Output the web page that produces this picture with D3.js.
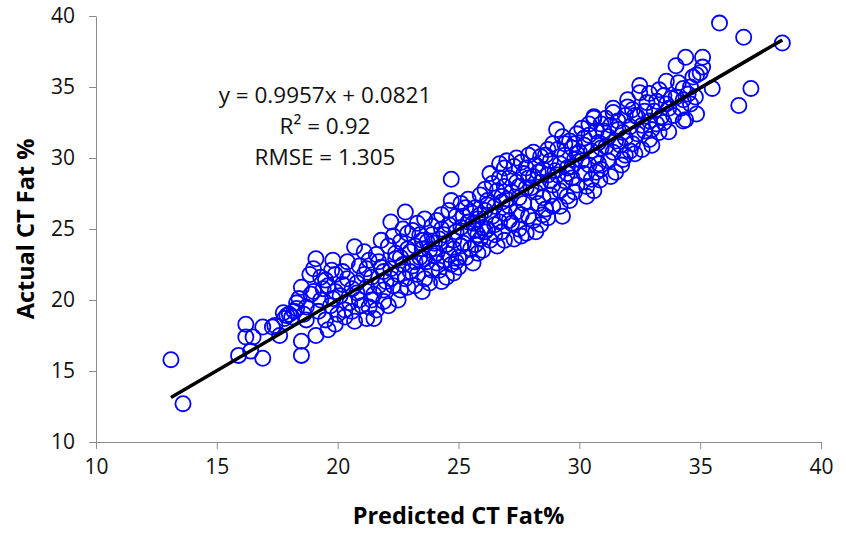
<!DOCTYPE html>
<html lang="en">
  <head>
    <title>CT Fat</title>
    <script src="https://cdn.jsdelivr.net/npm/d3@7"></script>
    <style>
      body { margin: 0; background-color: white; }
    </style>
  </head>

  <body>
    <div id="container"></div>

<script>
    // grouped roughly by predicted value
    const predicted = [
      13.1, 13.6, 15.9, 16.2, 16.2, 16.5, 16.4, 16.9, 16.9, 17.3, 17.6, 17.4, 17.75, 17.9, 17.8,
      18.0, 18.2, 18.3, 18.1, 18.5, 18.5, 18.5, 18.4, 18.7, 18.85, 18.6, 18.9, 18.3, 18.7,
      19.1, 19.0, 19.1, 19.0, 19.3, 19.5, 19.75, 19.8, 19.9, 19.9, 19.3, 19.7, 19.5, 19.2, 19.9, 19.6, 19.4, 19.8, 20.0, 19.6,
      20.3, 20.7, 20.2, 20.4, 20.6, 20.1, 20.8, 20.5, 20.9, 20.3, 20.6, 20.9, 20.4, 20.7, 21.0, 20.2, 20.8,
      21.2, 21.5, 21.1, 21.3, 21.6, 21.4, 21.8, 21.2, 21.5, 21.7, 21.9, 21.3, 21.6, 21.8, 21.9, 21.1, 21.4, 21.7, 22.0, 21.9, 21.2,
      22.2, 22.8, 22.5, 22.1, 22.3, 22.6, 22.9, 22.4, 22.7, 22.2, 22.5, 22.8, 22.3, 22.6, 22.9, 22.1, 22.4, 22.7, 23.0, 22.9, 22.6, 22.2,
      23.1, 23.3, 23.6, 23.9, 23.2, 23.5, 23.8, 23.4, 23.7, 23.1, 23.9, 23.3, 23.6, 23.2, 23.8, 23.5, 23.0, 23.4, 23.7, 24.0, 23.6, 23.2, 23.9, 23.5,
      24.7, 24.7, 24.8, 24.1, 24.3, 24.6, 24.9, 24.2, 24.5, 24.8, 24.1, 24.4, 24.7, 24.2, 24.9, 24.5, 24.3, 24.6, 24.9, 24.0, 24.4, 24.8, 24.1, 24.6, 25.0, 24.3,
      25.1, 25.4, 25.7, 25.9, 25.2, 25.5, 25.8, 25.1, 25.4, 25.7, 25.9, 25.2, 25.5, 25.8, 25.3, 25.6, 25.0, 25.9, 25.3, 25.6, 25.1, 25.8, 25.4, 26.0, 25.7,
      26.1, 26.4, 26.7, 26.9, 26.2, 26.5, 26.8, 26.1, 26.4, 26.7, 26.9, 26.2, 26.5, 26.8, 26.3, 26.6, 26.0, 26.9, 26.3, 26.6, 26.2, 26.8, 26.5, 26.9, 26.1, 26.7,
      27.0, 27.3, 27.6, 27.9, 27.1, 27.4, 27.7, 27.2, 27.5, 27.8, 27.1, 27.4, 27.7, 27.9, 27.2, 27.5, 27.8, 27.3, 27.6, 27.0, 27.9, 27.4, 27.6, 27.1, 27.8, 27.5,
      28.1, 28.4, 28.7, 28.9, 28.2, 28.5, 28.8, 28.1, 28.4, 28.7, 28.9, 28.2, 28.5, 28.8, 28.3, 28.6, 28.9, 28.1, 28.4, 28.7, 28.0, 28.6, 28.3, 28.8, 28.5, 28.2,
      29.06, 29.3, 29.6, 29.9, 29.1, 29.4, 29.7, 29.2, 29.5, 29.8, 29.1, 29.4, 29.7, 29.9, 29.2, 29.5, 29.3, 29.6, 29.8, 29.0, 29.9, 29.4, 29.7, 29.2, 29.5, 29.8,
      30.6, 30.3, 30.6, 30.85, 30.1, 30.4, 30.7, 30.9, 30.2, 30.5, 30.8, 30.1, 30.4, 30.7, 30.9, 30.2, 30.5, 30.8, 30.3, 30.6, 30.0, 30.9, 30.4, 30.7, 30.2,
      31.4, 31.4, 31.75, 31.1, 31.3, 31.6, 31.9, 31.2, 31.5, 31.8, 31.1, 31.4, 31.7, 31.9, 31.2, 31.5, 31.0, 31.6, 31.8, 31.3, 31.9, 32.0,
      32.0, 32.5, 32.5, 32.9, 32.3, 33.0, 32.2, 32.4, 32.7, 32.9, 32.1, 32.4, 32.7, 32.9, 32.2, 32.6, 32.8, 32.3, 32.6, 32.1, 33.0,
      33.3, 33.7, 33.6, 33.2, 33.5, 33.8, 33.1, 33.4, 33.7, 33.2, 33.5, 33.9, 33.6, 33.3,
      34.0, 34.4, 34.85, 34.0, 34.6, 34.85, 34.3, 34.3, 34.3, 34.7, 34.4, 34.2, 34.5, 34.8, 34.1, 34.6,
      35.1, 35.1, 35.5, 35.8, 36.8, 38.4, 37.1, 36.6, 35.0
    ];
    const actual = [
      15.8, 12.7, 16.1, 18.3, 17.4, 17.4, 16.4, 15.9, 18.1, 18.1, 17.5, 18.2, 19.1, 18.9, 18.7,
      19.0, 19.2, 19.4, 18.8, 17.1, 16.1, 20.9, 20.1, 19.5, 21.8, 19.0, 20.4, 19.8, 18.6,
      22.9, 20.6, 17.5, 22.2, 21.6, 21.4, 22.1, 22.8, 21.8, 20.6, 20.0, 19.6, 18.6, 19.2, 18.3, 17.9, 20.8, 20.1, 19.0, 21.0,
      19.3, 23.75, 22.0, 21.5, 20.8, 20.3, 21.2, 19.8, 20.0, 18.8, 19.2, 22.4, 22.7, 18.5, 19.6, 21.1, 20.5,
      18.7, 18.7, 23.4, 22.8, 23.2, 21.6, 22.3, 20.9, 20.4, 21.0, 19.9, 19.5, 19.3, 24.2, 22.0, 21.8, 20.0, 22.7, 21.3, 20.7, 22.2,
      25.5, 26.2, 20.0, 23.8, 24.5, 24.1, 23.6, 22.9, 22.5, 22.2, 21.8, 21.5, 21.0, 20.7, 20.9, 19.6, 23.3, 25.0, 22.0, 24.7, 23.0, 21.5,
      24.9, 25.4, 25.7, 24.6, 23.8, 24.2, 23.5, 23.0, 22.7, 22.4, 22.1, 21.8, 21.5, 21.0, 21.2, 20.6, 23.4, 24.6, 24.1, 23.1, 22.9, 22.7, 25.2, 23.6,
      28.5, 27.0, 21.9, 25.6, 25.0, 25.3, 24.8, 24.3, 23.9, 23.6, 23.3, 22.8, 22.5, 22.1, 22.7, 21.6, 26.0, 26.3, 25.9, 24.0, 24.6, 24.2, 22.6, 23.2, 23.0, 21.3,
      26.8, 27.1, 26.5, 27.4, 25.9, 26.2, 25.7, 25.1, 24.7, 24.9, 24.3, 24.0, 23.6, 23.3, 23.0, 22.6, 22.3, 26.0, 26.5, 25.4, 23.8, 24.6, 25.5, 25.1, 23.9,
      27.8, 28.2, 28.6, 29.3, 27.0, 26.6, 27.3, 26.3, 25.9, 25.5, 26.1, 25.0, 24.6, 24.8, 24.2, 23.8, 23.5, 28.0, 28.9, 27.7, 26.7, 26.9, 25.3, 24.2, 24.8, 29.6,
      29.8, 29.4, 29.7, 30.2, 28.6, 28.3, 28.9, 27.6, 27.2, 27.9, 26.6, 26.2, 26.8, 25.9, 25.4, 25.0, 24.7, 24.3, 24.5, 27.1, 28.6, 30.0, 26.0, 25.6, 29.3, 28.0,
      30.4, 30.1, 30.6, 31.0, 29.5, 29.2, 29.8, 28.7, 28.3, 28.8, 28.1, 27.6, 27.2, 27.4, 26.8, 26.4, 26.6, 25.6, 25.3, 25.8, 27.9, 30.2, 29.0, 28.4, 26.0, 24.8,
      32.0, 31.5, 31.2, 31.7, 30.6, 30.2, 30.7, 29.6, 29.3, 29.9, 28.8, 28.4, 28.6, 28.1, 27.7, 27.3, 25.9, 27.0, 27.6, 29.1, 30.3, 31.0, 29.4, 26.6, 28.9, 31.0,
      32.9, 27.3, 32.8, 28.45, 32.1, 31.6, 31.9, 32.4, 30.9, 30.5, 31.1, 29.8, 29.5, 30.1, 29.2, 28.9, 28.5, 29.6, 28.0, 27.7, 30.4, 30.7, 32.4, 29.0, 31.4,
      33.2, 33.5, 29.5, 32.8, 32.3, 32.6, 33.0, 31.5, 31.2, 31.8, 30.8, 30.4, 30.9, 30.2, 29.8, 29.0, 31.9, 32.0, 29.9, 28.7, 31.4, 33.6,
      34.1, 35.1, 34.6, 34.55, 30.3, 30.9, 33.4, 32.9, 33.3, 32.6, 32.2, 31.7, 31.9, 31.3, 31.0, 30.6, 33.9, 33.0, 32.3, 30.5, 32.0,
      31.8, 31.85, 35.4, 34.0, 34.4, 34.2, 33.3, 32.9, 33.5, 32.4, 32.5, 33.0, 33.8, 34.8,
      36.5, 37.1, 35.85, 34.3, 35.0, 33.1, 32.6, 34.9, 34.1, 35.7, 32.7, 33.5, 34.5, 34.3, 35.3, 33.8,
      37.1, 36.4, 34.9, 39.5, 38.5, 38.1, 34.9, 33.7, 36.0
    ];

    const xTicks = [10, 15, 20, 25, 30, 35, 40];
    const yTicks = [10, 15, 20, 25, 30, 35, 40];

    const slope = 0.9957, intercept = 0.0821;
    const statLines = ["y = 0.9957x + 0.0821", "R\u00b2 = 0.92", "RMSE = 1.305"];

    const W = 846, H = 534;
    const margin = {top: 16, right: 25, bottom: 92, left: 96};
    const width = W - margin.left - margin.right;
    const height = H - margin.top - margin.bottom;

    const svg = d3.select("#container").append("svg")
      .attr("width", W)
      .attr("height", H)
      .append("g")
      .attr("transform", `translate(${margin.left}, ${margin.top})`);

    const xAxis = d3.scaleLinear().domain([10, 40]).range([0, width]);
    const yAxis = d3.scaleLinear().domain([10, 40]).range([height, 0]);

    const font = "'Open Sans', 'Liberation Sans', sans-serif";

    const gx = svg.append("g")
      .attr("transform", `translate(0, ${height})`)
      .call(d3.axisBottom(xAxis).tickValues(xTicks).tickSizeInner(7).tickSizeOuter(0).tickPadding(10));
    const gy = svg.append("g")
      .call(d3.axisLeft(yAxis).tickValues(yTicks).tickSizeInner(7).tickSizeOuter(0).tickPadding(14));

    [gx, gy].forEach(g => {
      g.select(".domain").attr("stroke", "#8c8c8c");
      g.selectAll(".tick line").attr("stroke", "#8c8c8c");
      g.selectAll(".tick text").style("font", `21px ${font}`).attr("fill", "#111");
    });

    // points
    svg.append("g")
      .selectAll("circle")
      .data(predicted.map((p, i) => [p, actual[i]]))
      .enter()
      .append("circle")
      .attr("cx", d => xAxis(d[0]))
      .attr("cy", d => yAxis(d[1]))
      .attr("r", 7.6)
      .attr("fill", "none")
      .attr("stroke", "#0000ff")
      .attr("stroke-width", 1.8);

    // trend line over the data range
    const xMin = d3.min(predicted), xMax = d3.max(predicted);
    svg.append("line")
      .attr("x1", xAxis(xMin)).attr("y1", yAxis(slope * xMin + intercept))
      .attr("x2", xAxis(xMax)).attr("y2", yAxis(slope * xMax + intercept))
      .attr("stroke", "black")
      .attr("stroke-width", 3.5);

    svg.selectAll("statText")
      .data(statLines)
      .enter()
      .append("text")
      .style("font", `22.5px ${font}`)
      .attr("fill", "#111")
      .attr("text-anchor", "middle")
      .attr("x", 229)
      .attr("y", (d, i) => 87 + i * 31)
      .text(d => d);

    svg.append("text")
      .style("font", `bold 23.5px ${font}`)
      .attr("text-anchor", "middle")
      .attr("x", width / 2)
      .attr("y", height + 82)
      .text("Predicted CT Fat%");

    svg.append("text")
      .style("font", `bold 23.5px ${font}`)
      .attr("text-anchor", "middle")
      .attr("transform", `translate(-62, ${height / 2}) rotate(-90)`)
      .text("Actual CT Fat %");
</script>
  </body>
</html>
